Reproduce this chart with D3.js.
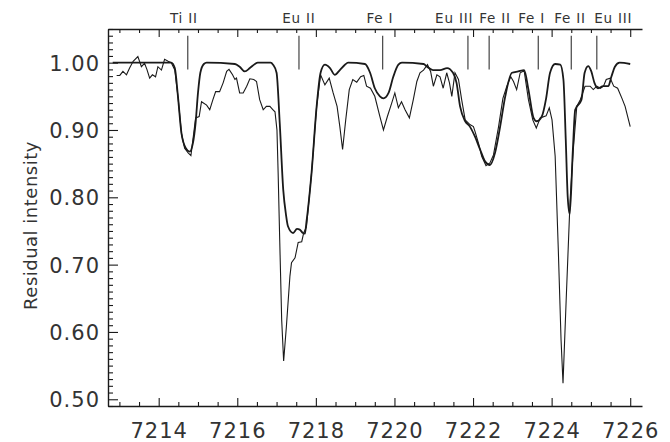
<!DOCTYPE html>
<html>
<head>
<meta charset="utf-8">
<script src="https://cdn.jsdelivr.net/npm/d3@7"></script>
<style>
  body { margin: 0; background: #fff; }
  text { font-family: "DejaVu Sans", sans-serif; fill: #333; }
</style>
</head>
<body>
<script>
// observed spectrum (thin line)
const obsWave = [7212.93, 7213.01, 7213.09, 7213.18, 7213.26, 7213.35, 7213.47, 7213.56, 7213.64, 7213.70,
  7213.77, 7213.84, 7213.92, 7213.98, 7214.07, 7214.15, 7214.24, 7214.32, 7214.41, 7214.49,
  7214.58, 7214.66, 7214.75, 7214.82, 7214.87, 7214.94, 7215.03, 7215.09, 7215.22, 7215.30,
  7215.38, 7215.45, 7215.55, 7215.64, 7215.73, 7215.79, 7215.88, 7215.94, 7215.98, 7216.06,
  7216.15, 7216.24, 7216.32, 7216.42, 7216.49, 7216.57, 7216.66, 7216.74, 7216.83, 7216.91,
  7216.96, 7217.01, 7217.04, 7217.08, 7217.13, 7217.18, 7217.25, 7217.34, 7217.38, 7217.47,
  7217.55, 7217.64, 7217.69, 7217.76, 7217.89, 7218.02, 7218.12, 7218.23, 7218.34, 7218.44,
  7218.54, 7218.61, 7218.68, 7218.76, 7218.85, 7218.94, 7219.04, 7219.14, 7219.22, 7219.29,
  7219.39, 7219.50, 7219.63, 7219.72, 7219.82, 7219.93, 7220.01, 7220.10, 7220.18, 7220.27,
  7220.38, 7220.48, 7220.57, 7220.65, 7220.74, 7220.84, 7220.92, 7220.99, 7221.08, 7221.16,
  7221.24, 7221.33, 7221.40, 7221.46, 7221.54, 7221.63, 7221.71, 7221.80, 7221.92, 7222.01,
  7222.05, 7222.14, 7222.22, 7222.33, 7222.43, 7222.52, 7222.65, 7222.76, 7222.86, 7222.96,
  7223.03, 7223.11, 7223.20, 7223.30, 7223.41, 7223.52, 7223.61, 7223.71, 7223.86, 7223.94,
  7224.01, 7224.09, 7224.17, 7224.24, 7224.29, 7224.37, 7224.47, 7224.55, 7224.64, 7224.73,
  7224.85, 7224.98, 7225.06, 7225.15, 7225.24, 7225.32, 7225.39, 7225.49, 7225.58, 7225.68,
  7225.79, 7225.87, 7226.00];
const obsFlux = [0.981, 0.981, 0.987, 0.982, 0.992, 1.002, 1.009, 0.994, 0.999, 0.990,
  0.977, 0.982, 0.979, 0.994, 0.989, 1.005, 1.002, 1.000, 0.989, 0.950,
  0.895, 0.873, 0.866, 0.862, 0.885, 0.918, 0.920, 0.942, 0.937, 0.930,
  0.945, 0.957, 0.957, 0.970, 0.987, 0.990, 0.982, 0.975, 0.977, 0.955,
  0.955, 0.965, 0.976, 0.975, 0.972, 0.945, 0.930, 0.935, 0.935, 0.930,
  0.927, 0.900, 0.836, 0.737, 0.618, 0.557, 0.608, 0.683, 0.703, 0.710,
  0.733, 0.734, 0.747, 0.756, 0.836, 0.935, 0.982, 0.967, 0.977, 0.955,
  0.935, 0.905, 0.871, 0.915, 0.960, 0.975, 0.971, 0.979, 0.981, 0.965,
  0.962, 0.950, 0.920, 0.900, 0.920, 0.940, 0.955, 0.933, 0.942, 0.930,
  0.918, 0.945, 0.972, 0.985, 0.989, 0.997, 0.987, 0.965, 0.982, 0.979,
  0.962, 0.985, 0.970, 0.950, 0.985, 0.975, 0.945, 0.915, 0.908, 0.905,
  0.898, 0.880, 0.861, 0.847, 0.851, 0.863, 0.905, 0.947, 0.965, 0.979,
  0.972, 0.960, 0.985, 0.988, 0.945, 0.915, 0.903, 0.918, 0.921, 0.933,
  0.915, 0.861, 0.722, 0.588, 0.524, 0.647, 0.796, 0.870, 0.935, 0.945,
  0.965, 0.965, 0.960, 0.965, 0.962, 0.965, 0.975, 0.977, 0.965, 0.962,
  0.947, 0.935, 0.905];

// synthetic spectrum (thick line)
const synWave = [7212.83, 7214.32, 7214.41, 7214.49, 7214.58, 7214.69, 7214.79, 7214.87, 7214.94, 7215.00,
  7215.06, 7215.15, 7215.22, 7215.94, 7216.06, 7216.19, 7216.32, 7216.45, 7216.52, 7216.85,
  7216.91, 7217.00, 7217.08, 7217.17, 7217.24, 7217.29, 7217.42, 7217.52, 7217.59, 7217.67,
  7217.72, 7217.76, 7217.89, 7218.02, 7218.12, 7218.23, 7218.36, 7218.48, 7218.61, 7218.74,
  7218.82, 7219.25, 7219.38, 7219.50, 7219.63, 7219.72, 7219.85, 7219.97, 7220.10, 7220.19,
  7220.74, 7220.83, 7220.98, 7221.16, 7221.34, 7221.49, 7221.58, 7221.67, 7221.80, 7221.92,
  7222.05, 7222.18, 7222.31, 7222.43, 7222.56, 7222.69, 7222.82, 7222.99, 7223.15, 7223.30,
  7223.41, 7223.54, 7223.62, 7223.75, 7223.86, 7223.96, 7224.09, 7224.22, 7224.30, 7224.36,
  7224.41, 7224.46, 7224.54, 7224.60, 7224.76, 7224.84, 7224.93, 7225.01, 7225.09, 7225.18,
  7225.31, 7225.44, 7225.52, 7225.61, 7225.73, 7226.00];
const synFlux = [1.000, 1.000, 0.992, 0.950, 0.895, 0.873, 0.868, 0.880, 0.911, 0.955,
  0.985, 0.998, 1.000, 0.998, 0.994, 0.987, 0.992, 0.998, 1.000, 1.000,
  0.997, 0.985, 0.911, 0.811, 0.774, 0.757, 0.747, 0.753, 0.752, 0.747,
  0.746, 0.763, 0.836, 0.935, 0.985, 0.997, 0.992, 0.982, 0.989, 0.997,
  1.000, 0.998, 0.985, 0.962, 0.950, 0.947, 0.955, 0.979, 0.997, 1.000,
  0.998, 0.994, 0.989, 0.989, 0.992, 0.985, 0.970, 0.935, 0.913, 0.905,
  0.890, 0.871, 0.853, 0.848, 0.866, 0.905, 0.950, 0.985, 0.987, 0.989,
  0.960, 0.918, 0.913, 0.920, 0.947, 0.985, 0.998, 0.997, 0.975, 0.885,
  0.800, 0.775, 0.870, 0.930, 0.945, 0.985, 0.995, 0.987, 0.970, 0.962,
  0.965, 0.965, 0.979, 0.994, 1.000, 0.998];

// line identifications
const ionNames = ["Ti II", "Eu II", "Fe I", "Eu III", "Fe II", "Fe I", "Fe II", "Eu III"];
const ionWave = [7214.74, 7217.57, 7219.70, 7221.87, 7222.41, 7223.66, 7224.50, 7225.15];
const labelAt = [7214.64, 7217.57, 7219.63, 7221.52, 7222.56, 7223.49, 7224.47, 7225.57];

const xTickValues = [7214, 7216, 7218, 7220, 7222, 7224, 7226];
const yTickValues = [0.50, 0.60, 0.70, 0.80, 0.90, 1.00];

const W = 670, H = 442;
const margin = {top: 29, right: 28, bottom: 36, left: 108};

const svg = d3.select("body").append("svg")
    .attr("width", W)
    .attr("height", H);

const x = d3.scaleLinear()
    .domain([7212.71, 7226.30])
    .range([margin.left, W - margin.right]);

const y = d3.scaleLinear()
    .domain([0.49, 1.05])
    .range([H - margin.bottom, margin.top]);

const ink = "#1a1a1a";

// axes
const xMinor = d3.range(7213, 7226.01, 0.5).filter(v => v % 2 !== 0);
const yMinor = d3.range(0.49, 1.051, 0.01).map(v => +v.toFixed(2))
    .filter(v => Math.round(v * 100) % 10 !== 0);

const xAxisBottom = svg.append("g")
    .attr("transform", `translate(0,${H - margin.bottom})`)
    .call(d3.axisBottom(x).tickValues(xTickValues).tickSize(-8).tickPadding(17)
        .tickFormat(d3.format("d")).tickSizeOuter(0));
xAxisBottom.append("g").call(d3.axisBottom(x).tickValues(xMinor).tickSize(-4).tickFormat(""))
    .call(g => g.select(".domain").remove());

const xAxisTop = svg.append("g")
    .attr("transform", `translate(0,${margin.top})`)
    .call(d3.axisTop(x).tickValues(xTickValues).tickSize(-8).tickFormat("").tickSizeOuter(0));
xAxisTop.append("g").call(d3.axisTop(x).tickValues(xMinor).tickSize(-4).tickFormat(""))
    .call(g => g.select(".domain").remove());

const yAxisLeft = svg.append("g")
    .attr("transform", `translate(${margin.left},0)`)
    .call(d3.axisLeft(y).tickValues(yTickValues).tickSize(-10).tickPadding(8)
        .tickFormat(d3.format(".2f")).tickSizeOuter(0));
yAxisLeft.append("g").call(d3.axisLeft(y).tickValues(yMinor).tickSize(-5).tickFormat(""))
    .call(g => g.select(".domain").remove());

svg.selectAll(".domain").attr("stroke", ink).attr("stroke-width", 1.4);
svg.selectAll(".tick line").attr("stroke", ink).attr("stroke-width", 1.1);
svg.selectAll(".tick text")
    .style("font-size", "21px")
    .style("letter-spacing", "1px")
    .style("font-family", "DejaVu Sans, sans-serif")
    .attr("fill", "#3a3a3a");
yAxisLeft.selectAll(".tick text").attr("dy", "0.36em");

svg.append("text")
    .attr("transform", `translate(37,${(margin.top + H - margin.bottom) / 2 + 8}) rotate(-90)`)
    .attr("text-anchor", "middle")
    .style("font-size", "18px")
    .style("letter-spacing", "0.5px")
    .attr("fill", "#3a3a3a")
    .text("Residual intensity");

// spectra
const obs = obsWave.map((w, i) => [w, obsFlux[i]]);
const syn = synWave.map((w, i) => [w, synFlux[i]]);

svg.append("path")
    .datum(syn)
    .attr("fill", "none")
    .attr("stroke", ink)
    .attr("stroke-width", 1.8)
    .attr("d", d3.line().x(d => x(d[0])).y(d => y(d[1])).curve(d3.curveMonotoneX));

svg.append("path")
    .datum(obs)
    .attr("fill", "none")
    .attr("stroke", ink)
    .attr("stroke-width", 1.1)
    .attr("d", d3.line().x(d => x(d[0])).y(d => y(d[1])));

// identification marks
svg.append("g").selectAll("line")
    .data(ionWave)
    .join("line")
    .attr("x1", d => x(d)).attr("x2", d => x(d))
    .attr("y1", y(1.04)).attr("y2", y(0.99))
    .attr("stroke", "#444")
    .attr("stroke-width", 1.2);

svg.append("g").selectAll("text")
    .data(ionNames)
    .join("text")
    .attr("x", (d, i) => x(labelAt[i]))
    .attr("y", 23)
    .attr("text-anchor", "middle")
    .style("font-size", "13.5px")
    .style("letter-spacing", "0.8px")
    .attr("fill", "#3a3a3a")
    .text(d => d);
</script>
</body>
</html>
